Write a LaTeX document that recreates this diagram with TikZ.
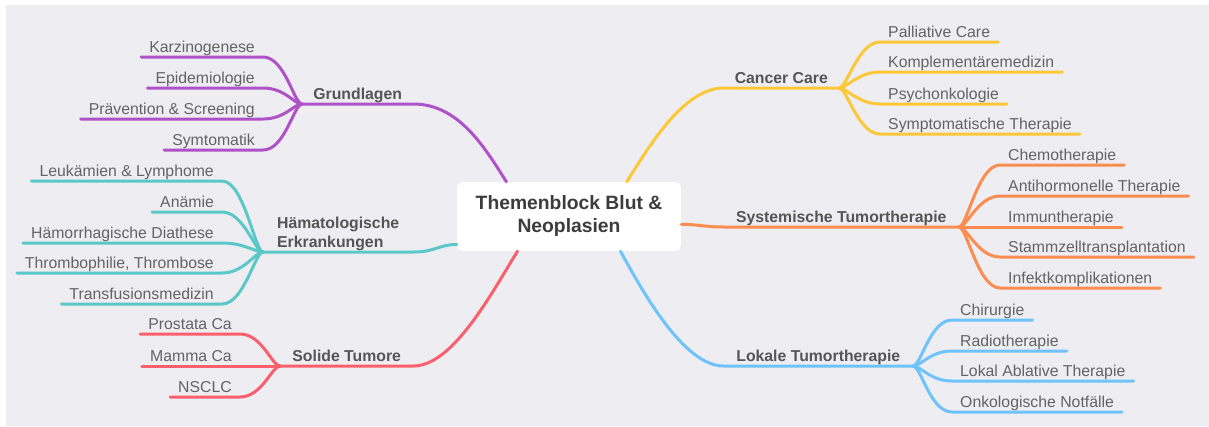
\documentclass[tikz,border=0pt]{standalone}
\usepackage{fontspec}
\setmainfont{Liberation Sans}
\usepackage{tikz}
\definecolor{canvas}{RGB}{237,237,242}
\definecolor{hubtext}{RGB}{60,60,60}
\definecolor{topictext}{RGB}{85,85,85}
\definecolor{leaftext}{RGB}{100,100,100}
\definecolor{purp}{RGB}{175,82,200}
\definecolor{teal}{RGB}{90,200,200}
\definecolor{rose}{RGB}{250,95,110}
\definecolor{yell}{RGB}{252,200,55}
\definecolor{oran}{RGB}{252,140,80}
\definecolor{skyb}{RGB}{110,195,250}

\begin{document}
\begin{tikzpicture}
[x=1pt, y=-1pt,
% STYLES
every node/.style={inner sep=0pt},
% The hub style is used for the central theme
hub/.style={rectangle, rounded corners=6pt, fill=white, minimum width=224pt, minimum height=69pt, align=center, text=hubtext, font=\fontsize{19.3}{23}\selectfont\bfseries},
% The topic style is used for the six main branches
topic/.style={inner ysep=1.5pt, text depth=3pt, text=topictext, font=\fontsize{15.8}{19}\selectfont\bfseries},
% The leaf style is used for the sub-topics
leaf/.style={inner xsep=8pt, inner ysep=1.5pt, text depth=3pt, text=leaftext, font=\fontsize{15.8}{19}\selectfont},
branch/.style={line width=3pt, line cap=round, line join=round}]
% Background
\fill[white] (0,0) rectangle (1209,426);
\fill[canvas] (6,5) rectangle (1209,426);
% Draw theme
\node [hub] (hub) at (569,216.5) {Themenblock Blut \&\\Neoplasien};
% Draw topics
\node [topic, minimum width=111pt, anchor=south west] (grund) at (302,104) {Grundlagen};
\node [topic, align=left, minimum width=150pt, anchor=south west] (haem) at (263,252) {Hämatologische\\Erkrankungen};
\node [topic, minimum width=133pt, anchor=south west] (solid) at (280,366) {Solide Tumore};
\node [topic, minimum width=115pt, anchor=south east] (cancer) at (839,88) {Cancer Care};
\node [topic, minimum width=235pt, anchor=south east] (syst) at (959,227) {Systemische Tumortherapie};
\node [topic, minimum width=189pt, anchor=south east] (lokal) at (913,366) {Lokale Tumortherapie};
%%%%%%%%%%%%%%%
% Sub-topics
% grund
\node [leaf, anchor=south east] (karz) at (263,57) {Karzinogenese};
\node [leaf, anchor=south east] (epid) at (263,88) {Epidemiologie};
\node [leaf, anchor=south east] (praev) at (263,119) {Prävention \& Screening};
\node [leaf, anchor=south east] (symt) at (263,150) {Symtomatik};
% haem
\node [leaf, anchor=south east] (leuk) at (222,181) {Leukämien \& Lymphome};
\node [leaf, anchor=south east] (anae) at (222,212) {Anämie};
\node [leaf, anchor=south east] (diath) at (222,243) {Hämorrhagische Diathese};
\node [leaf, anchor=south east] (thromb) at (222,273) {Thrombophilie, Thrombose};
\node [leaf, anchor=south east] (transf) at (222,304) {Transfusionsmedizin};
% solid
\node [leaf, anchor=south east] (prost) at (240,334) {Prostata Ca};
\node [leaf, anchor=south east] (mamma) at (240,366) {Mamma Ca};
\node [leaf, anchor=south east] (nsclc) at (240,397) {NSCLC};
% cancer
\node [leaf, anchor=south west] (pall) at (880,42) {Palliative Care};
\node [leaf, anchor=south west] (kompl) at (880,72) {Komplementäremedizin};
\node [leaf, anchor=south west] (psych) at (880,104) {Psychonkologie};
\node [leaf, anchor=south west] (sympt) at (880,134) {Symptomatische Therapie};
% syst
\node [leaf, anchor=south west] (chemo) at (1000,165) {Chemotherapie};
\node [leaf, anchor=south west] (antih) at (1000,196) {Antihormonelle Therapie};
\node [leaf, anchor=south west] (immun) at (1000,227) {Immuntherapie};
\node [leaf, anchor=south west] (stamm) at (1000,257) {Stammzelltransplantation};
\node [leaf, anchor=south west] (infekt) at (1000,288) {Infektkomplikationen};
% lokal
\node [leaf, anchor=south west] (chir) at (952,320) {Chirurgie};
\node [leaf, anchor=south west] (radio) at (952,351) {Radiotherapie};
\node [leaf, anchor=south west] (ablat) at (952,381) {Lokal Ablative Therapie};
\node [leaf, anchor=south west] (notf) at (952,412) {Onkologische Notfälle};
%%%%%%%%%%%%%%%%
% Draw the links from the theme to the topics
\draw[branch, purp] (hub.151) .. controls +(-22,-35) and +(45,0) .. (grund.south east) -- (grund.south west);
\draw[branch, teal] (hub.194) .. controls +(-18,0) and +(22,0) .. (haem.south east) -- (haem.south west);
\draw[branch, rose] (hub.214) .. controls +(-25,40) and +(40,0) .. (solid.south east) -- (solid.south west);
\draw[branch, yell] (hub.31) .. controls +(22,-35) and +(-40,0) .. (cancer.south west) -- (cancer.south east);
\draw[branch, oran] (hub.356) .. controls +(18,0) and +(-20,0) .. (syst.south west) -- (syst.south east);
\draw[branch, skyb] (hub.326) .. controls +(22,40) and +(-40,0) .. (lokal.south west) -- (lokal.south east);
% Draw the links from the topics to the sub-topics
\draw[branch, purp] (karz.south west) -- (karz.south east) .. controls +(22,0) and +(-8,0) .. (grund.south west);
\draw[branch, purp] (epid.south west) -- (epid.south east) .. controls +(22,0) and +(-8,0) .. (grund.south west);
\draw[branch, purp] (praev.south west) -- (praev.south east) .. controls +(22,0) and +(-8,0) .. (grund.south west);
\draw[branch, purp] (symt.south west) -- (symt.south east) .. controls +(22,0) and +(-8,0) .. (grund.south west);
\draw[branch, teal] (leuk.south west) -- (leuk.south east) .. controls +(22,0) and +(-8,0) .. (haem.south west);
\draw[branch, teal] (anae.south west) -- (anae.south east) .. controls +(22,0) and +(-8,0) .. (haem.south west);
\draw[branch, teal] (diath.south west) -- (diath.south east) .. controls +(22,0) and +(-8,0) .. (haem.south west);
\draw[branch, teal] (thromb.south west) -- (thromb.south east) .. controls +(22,0) and +(-8,0) .. (haem.south west);
\draw[branch, teal] (transf.south west) -- (transf.south east) .. controls +(22,0) and +(-8,0) .. (haem.south west);
\draw[branch, rose] (prost.south west) -- (prost.south east) .. controls +(22,0) and +(-8,0) .. (solid.south west);
\draw[branch, rose] (mamma.south west) -- (solid.south west);
\draw[branch, rose] (nsclc.south west) -- (nsclc.south east) .. controls +(22,0) and +(-8,0) .. (solid.south west);
\draw[branch, yell] (cancer.south east) .. controls +(8,0) and +(-22,0) .. (pall.south west) -- (pall.south east);
\draw[branch, yell] (cancer.south east) .. controls +(8,0) and +(-22,0) .. (kompl.south west) -- (kompl.south east);
\draw[branch, yell] (cancer.south east) .. controls +(8,0) and +(-22,0) .. (psych.south west) -- (psych.south east);
\draw[branch, yell] (cancer.south east) .. controls +(8,0) and +(-22,0) .. (sympt.south west) -- (sympt.south east);
\draw[branch, oran] (syst.south east) .. controls +(8,0) and +(-22,0) .. (chemo.south west) -- (chemo.south east);
\draw[branch, oran] (syst.south east) .. controls +(8,0) and +(-22,0) .. (antih.south west) -- (antih.south east);
\draw[branch, oran] (syst.south east) -- (immun.south east);
\draw[branch, oran] (syst.south east) .. controls +(8,0) and +(-22,0) .. (stamm.south west) -- (stamm.south east);
\draw[branch, oran] (syst.south east) .. controls +(8,0) and +(-22,0) .. (infekt.south west) -- (infekt.south east);
\draw[branch, skyb] (lokal.south east) .. controls +(8,0) and +(-22,0) .. (chir.south west) -- (chir.south east);
\draw[branch, skyb] (lokal.south east) .. controls +(8,0) and +(-22,0) .. (radio.south west) -- (radio.south east);
\draw[branch, skyb] (lokal.south east) .. controls +(8,0) and +(-22,0) .. (ablat.south west) -- (ablat.south east);
\draw[branch, skyb] (lokal.south east) .. controls +(8,0) and +(-22,0) .. (notf.south west) -- (notf.south east);
\end{tikzpicture}
\end{document}
